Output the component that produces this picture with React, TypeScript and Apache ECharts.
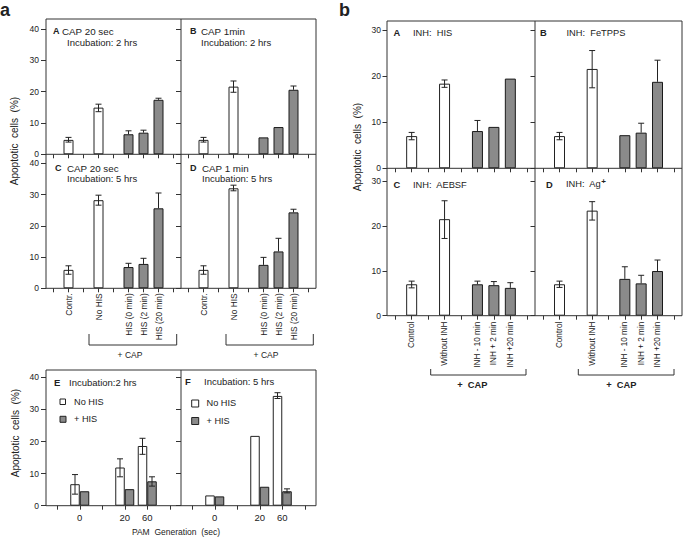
import React, { useEffect, useRef } from 'react';
import * as echarts from 'echarts';

// ---------- categories ----------
const catsCap = ['', 'Contr.', '', 'No HIS', '', 'HIS (0 min)', 'HIS (2 min)', 'HIS (20 min)', ''];
const catsInh = ['', 'Control', '', 'Without INH', '', 'INH - 10 min', 'INH + 2 min', 'INH +20 min', ''];
const catsPam = ['', '0', '', '20', '60', ''];
const barSlots = [1, 3, 5, 6, 7];
const barKinds = ['open', 'open', 'filled', 'filled', 'filled'];
const pamSlots = [1, 3, 4];

// ---------- figure a, panels A-D (Contr., No HIS, HIS 0, HIS 2, HIS 20) ----------
const capA = [4.6, 14.9, 6.4, 6.9, 17.4];
const capAHi = [5.4, 16.0, 7.5, 7.7, 17.9];
const capALo = [3.9, 13.6, 6.4, 6.9, 17.4];
const capB = [4.6, 21.6, 5.4, 8.7, 20.6];
const capBHi = [5.4, 23.4, 5.4, 8.7, 21.8];
const capBLo = [3.9, 19.8, 5.4, 8.7, 20.6];
const capC = [5.9, 28.2, 6.8, 7.8, 25.6];
const capCHi = [7.2, 29.8, 8.0, 9.6, 30.5];
const capCLo = [4.5, 26.6, 6.8, 7.8, 25.6];
const capD = [5.9, 32.0, 7.5, 11.8, 24.3];
const capDHi = [7.2, 33.0, 9.9, 16.0, 25.3];
const capDLo = [4.5, 31.2, 7.5, 11.8, 24.3];

// ---------- figure a, panels E-F (PAM generation 0, 20, 60 sec) ----------
const eNoHis = [6.7, 11.9, 18.6];
const eNoHisHi = [9.7, 14.6, 21.0];
const eNoHisLo = [3.6, 9.0, 16.0];
const eHis = [4.5, 5.15, 7.6];
const eHisHi = [4.5, 5.15, 9.0];
const eHisLo = [4.5, 5.15, 6.1];
const fNoHis = [3.2, 21.75, 34.2];
const fNoHisHi = [3.2, 21.75, 35.2];
const fNoHisLo = [3.2, 21.75, 33.4];
const fHis = [2.9, 5.9, 4.5];
const fHisHi = [2.9, 5.9, 5.25];
const fHisLo = [2.9, 5.9, 4.0];

// ---------- figure b (Control, Without INH, INH -10, INH +2, INH +20) ----------
const inhA = [7.0, 18.4, 8.1, 9.0, 19.5];
const inhAHi = [7.8, 19.2, 10.4, 9.0, 19.5];
const inhALo = [6.2, 17.6, 8.1, 9.0, 19.5];
const inhB = [7.0, 21.6, 7.2, 7.75, 18.8];
const inhBHi = [7.8, 25.6, 7.2, 9.8, 23.5];
const inhBLo = [6.2, 17.5, 7.2, 7.75, 18.8];
const inhC = [7.0, 21.5, 7.0, 6.8, 6.2];
const inhCHi = [7.7, 25.6, 7.7, 7.6, 7.35];
const inhCLo = [6.2, 17.2, 7.0, 6.8, 6.2];
const inhD = [7.0, 23.4, 8.2, 7.2, 9.95];
const inhDHi = [7.7, 25.4, 10.9, 9.0, 12.4];
const inhDLo = [6.3, 21.3, 8.2, 7.2, 9.95];

const FONT = 'Arial, "Liberation Sans", Helvetica, sans-serif';
const INK = '#222';
const LINE = '#333';
const GRAY = '#8a8a8a';

const openStyle = { color: '#fff', borderColor: INK, borderWidth: 1 };
const filledStyle = { color: GRAY, borderColor: '#1a1a1a', borderWidth: 1 };

function barData(n: number, slots: number[], vals: number[], kinds: string[]) {
  const arr: any[] = Array.from({ length: n }, () => '-');
  slots.forEach((s, k) => {
    arr[s] = { value: vals[k], itemStyle: kinds[k] === 'open' ? openStyle : filledStyle };
  });
  return arr;
}

function errData(slots: number[], vals: number[], hi: number[], lo: number[], off: number) {
  return slots
    .map((s, k) => [s, hi[k], lo[k], off, vals[k]])
    .filter((d) => d[1] > d[4] + 0.01 || d[2] < d[4] - 0.01);
}

const renderErr = (params: any, api: any) => {
  const c = api.value(0);
  const hi = api.value(1);
  const lo = api.value(2);
  const off = api.value(3);
  const v = api.value(4);
  const pH = api.coord([c, hi]);
  const pL = api.coord([c, lo]);
  const x = pH[0] + off;
  const st = { stroke: INK, lineWidth: 1 };
  const ch: any[] = [
    { type: 'line', shape: { x1: x, y1: pH[1], x2: x, y2: pL[1] }, style: st },
  ];
  if (hi > v + 0.01) ch.push({ type: 'line', shape: { x1: x - 3, y1: pH[1], x2: x + 3, y2: pH[1] }, style: st });
  if (lo < v - 0.01) ch.push({ type: 'line', shape: { x1: x - 3, y1: pL[1], x2: x + 3, y2: pL[1] }, style: st });
  return { type: 'group', children: ch };
};

export default function App() {
  const ref = useRef<HTMLDivElement>(null);
  useEffect(() => {
    if (!ref.current) return;
    const chart = echarts.init(ref.current, null, { renderer: 'svg' });

    const grids = [
      { left: 46, top: 29, width: 135, height: 125.3 },
      { left: 181, top: 29, width: 135, height: 125.3 },
      { left: 46, top: 163.3, width: 135, height: 125 },
      { left: 181, top: 163.3, width: 135, height: 125 },
      { left: 46, top: 377.3, width: 135, height: 128.4 },
      { left: 181, top: 377.3, width: 135, height: 128.4 },
      { left: 387, top: 30.3, width: 148, height: 138 },
      { left: 535, top: 30.3, width: 147, height: 138 },
      { left: 387, top: 181, width: 148, height: 134.7 },
      { left: 535, top: 181, width: 147, height: 134.7 },
    ];
    const xCats = [catsCap, catsCap, catsCap, catsCap, catsPam, catsPam, catsInh, catsInh, catsInh, catsInh];
    const showX = [false, false, true, true, true, true, false, false, true, true];
    const yMax = [40, 40, 40, 40, 40, 40, 30, 30, 30, 30];
    const leftY = [true, false, true, false, true, false, true, false, true, false];

    const xAxis = grids.map((g, i) => {
      const isPam = i === 4 || i === 5;
      const isInh = i >= 6;
      return {
        type: 'category',
        gridIndex: i,
        data: xCats[i],
        axisLine: { show: false },
        axisTick: { show: true, alignWithLabel: true, interval: 0, length: 4, lineStyle: { color: LINE, width: 1 } },
        axisLabel: {
          show: showX[i],
          interval: 0,
          rotate: isPam ? 0 : 90,
          fontSize: isPam ? 9.5 : isInh ? 8.2 : 8.4,
          margin: isPam ? 7 : isInh ? 6 : 5,
          color: INK,
          fontFamily: FONT,
        },
        splitLine: { show: false },
      };
    });
    const yAxis = grids.map((g, i) => ({
      type: 'value',
      gridIndex: i,
      min: 0,
      max: yMax[i],
      interval: 10,
      axisLine: { show: false },
      axisTick: { show: true, length: i >= 6 ? 4.5 : 5, lineStyle: { color: LINE, width: 1 } },
      axisLabel: { show: leftY[i], fontSize: 8.5, margin: i >= 6 ? 6 : 7, color: INK, fontFamily: FONT },
      splitLine: { show: false },
    }));

    const series: any[] = [];
    const addPanel = (gi: number, n: number, vals: number[], hi: number[], lo: number[], bw: number) => {
      series.push({
        type: 'bar', xAxisIndex: gi, yAxisIndex: gi, barWidth: bw,
        data: barData(n, barSlots, vals, barKinds), z: 2,
      });
      series.push({
        type: 'custom', xAxisIndex: gi, yAxisIndex: gi, renderItem: renderErr,
        data: errData(barSlots, vals, hi, lo, 0), z: 3, silent: true,
      });
    };
    addPanel(0, 9, capA, capAHi, capALo, 10);
    addPanel(1, 9, capB, capBHi, capBLo, 10);
    addPanel(2, 9, capC, capCHi, capCLo, 10);
    addPanel(3, 9, capD, capDHi, capDLo, 10);
    addPanel(6, 9, inhA, inhAHi, inhALo, 11);
    addPanel(7, 9, inhB, inhBHi, inhBLo, 11);
    addPanel(8, 9, inhC, inhCHi, inhCLo, 11);
    addPanel(9, 9, inhD, inhDHi, inhDLo, 11);

    const bwP = 9.5;
    const addPam = (gi: number, nv: number[], nh: number[], nl: number[], hv: number[], hh: number[], hl: number[]) => {
      series.push({
        type: 'bar', xAxisIndex: gi, yAxisIndex: gi, barWidth: bwP, barGap: '0%', z: 2,
        data: barData(6, pamSlots, nv, ['open', 'open', 'open']),
      });
      series.push({
        type: 'bar', xAxisIndex: gi, yAxisIndex: gi, barWidth: bwP, barGap: '0%', z: 2,
        data: barData(6, pamSlots, hv, ['filled', 'filled', 'filled']),
      });
      series.push({
        type: 'custom', xAxisIndex: gi, yAxisIndex: gi, renderItem: renderErr, z: 3, silent: true,
        data: errData(pamSlots, nv, nh, nl, -bwP / 2).concat(errData(pamSlots, hv, hh, hl, bwP / 2)),
      });
    };
    addPam(4, eNoHis, eNoHisHi, eNoHisLo, eHis, eHisHi, eHisLo);
    addPam(5, fNoHis, fNoHisHi, fNoHisLo, fHis, fHisHi, fHisLo);

    const txt = (x: number, y: number, text: string, o: any = {}) => ({
      type: 'text', x, y, silent: true, z: 50, rotation: o.rot || 0,
      style: {
        text, fill: INK, fontFamily: FONT, fontSize: o.fs || 10, fontWeight: o.bold ? 'bold' : 'normal',
        align: o.align || 'left', verticalAlign: 'middle', rich: o.rich,
      },
    });
    const ln = (x1: number, y1: number, x2: number, y2: number) => ({
      type: 'line', silent: true, z: 40, shape: { x1, y1, x2, y2 }, style: { stroke: LINE, lineWidth: 1 },
    });
    const frame = (x: number, y: number, w: number, h: number) => ({
      type: 'rect', silent: true, z: 40, shape: { x, y, width: w, height: h },
      style: { fill: 'none', stroke: LINE, lineWidth: 1 },
    });
    const bracket = (x1: number, x2: number, yT: number, yB: number) => ({
      type: 'polyline', silent: true, z: 40,
      shape: { points: [[x1, yT], [x1, yB], [x2, yB], [x2, yT]] },
      style: { fill: 'none', stroke: LINE, lineWidth: 1 },
    });
    const sq = (x: number, y: number, s: number, fill: string) => ({
      type: 'rect', silent: true, z: 40, shape: { x, y, width: s, height: s },
      style: { fill, stroke: INK, lineWidth: 1 },
    });

    const graphic: any[] = [
      // frames
      frame(46, 19, 270, 269.3), ln(46, 154.3, 316, 154.3), ln(181, 19, 181, 288.3),
      frame(46, 370, 270, 135.7), ln(181, 370, 181, 505.7),
      frame(387, 21, 295, 294.7), ln(387, 168.3, 682, 168.3), ln(535, 21, 535, 315.7),
      // figure letters
      txt(0, 10, 'a', { fs: 18, bold: true }),
      txt(339, 10, 'b', { fs: 18, bold: true }),
      // y titles
      txt(14, 141, 'Apoptotic  cells  (%)', { rot: Math.PI / 2, align: 'center', fs: 10 }),
      txt(15, 433, 'Apoptotic  cells  (%)', { rot: Math.PI / 2, align: 'center', fs: 10 }),
      txt(357, 147, 'Apoptotic  cells  (%)', { rot: Math.PI / 2, align: 'center', fs: 10 }),
      // panel a texts
      txt(53, 31, 'A', { bold: true, fs: 9 }), txt(62, 31, 'CAP 20 sec', { fs: 9.8 }),
      txt(67, 42, 'Incubation: 2 hrs', { fs: 9.5 }),
      txt(190, 31, 'B', { bold: true, fs: 9 }), txt(201, 31, 'CAP 1min', { fs: 9.8 }),
      txt(201, 42, 'Incubation: 2 hrs', { fs: 9.5 }),
      txt(55, 168, 'C', { bold: true, fs: 9 }), txt(67, 168, 'CAP 20 sec', { fs: 9.8 }),
      txt(67, 178.5, 'Incubation: 5 hrs', { fs: 9.5 }),
      txt(190, 168, 'D', { bold: true, fs: 9 }), txt(202, 168, 'CAP 1 min', { fs: 9.8 }),
      txt(202, 178.5, 'Incubation: 5 hrs', { fs: 9.5 }),
      // brackets a
      bracket(89, 176.7, 334, 345), txt(130, 354.5, '+ CAP', { align: 'center', fs: 8.5 }),
      bracket(226, 313.3, 334, 345), txt(266, 354.5, '+ CAP', { align: 'center', fs: 8.5 }),
      // E / F
      txt(54, 382, 'E', { bold: true, fs: 9.5 }), txt(69, 382, 'Incubation:2 hrs', { fs: 9.5 }),
      sq(60, 399, 5.5, '#fff'), txt(74, 401.7, 'No HIS', { fs: 9.2 }),
      sq(60, 416.3, 6, GRAY), txt(74, 419, '+ HIS', { fs: 9.2 }),
      txt(185, 381.7, 'F', { bold: true, fs: 9.5 }), txt(204, 381.7, 'Incubation: 5 hrs', { fs: 9.5 }),
      sq(191.7, 400, 7, '#fff'), txt(206.5, 403, 'No HIS', { fs: 9.2 }),
      sq(191.7, 417.5, 7, GRAY), txt(206.5, 421, '+ HIS', { fs: 9.2 }),
      txt(176, 531.5, 'PAM  Generation  (sec)', { align: 'center', fs: 8.5 }),
      // panel b texts
      txt(393.5, 32.7, 'A', { bold: true, fs: 9.3 }), txt(413, 32.7, 'INH:  HIS', { fs: 9.3 }),
      txt(540, 32.7, 'B', { bold: true, fs: 9.3 }), txt(566.5, 32.7, 'INH:  FeTPPS', { fs: 9.3 }),
      txt(393.5, 185, 'C', { bold: true, fs: 9.3 }), txt(413, 185, 'INH:  AEBSF', { fs: 9.3 }),
      txt(546, 185, 'D', { bold: true, fs: 9.3 }),
      txt(566, 184, '{m|INH:  Ag}{s|+}', {
        fs: 9.3,
        rich: {
          m: { fontSize: 9.3, fontFamily: FONT, fill: INK },
          s: { fontSize: 8, fontWeight: 'bold', fontFamily: FONT, fill: INK, padding: [0, 0, 5, 0] },
        },
      }),
      bracket(430.7, 526, 369, 375), txt(472.3, 385, '+  CAP', { align: 'center', fs: 9.3, bold: true }),
      bracket(578.3, 674, 369, 375), txt(621.3, 385, '+  CAP', { align: 'center', fs: 9.3, bold: true }),
    ];

    chart.setOption({
      animation: false,
      backgroundColor: '#fff',
      textStyle: { fontFamily: FONT },
      grid: grids.map((g) => ({ ...g, containLabel: false, show: false })),
      xAxis,
      yAxis,
      series,
      graphic,
    });
    return () => chart.dispose();
  }, []);
  return <div ref={ref} style={{ position: 'absolute', left: 0, top: 0, width: 685, height: 537 }} />;
}
